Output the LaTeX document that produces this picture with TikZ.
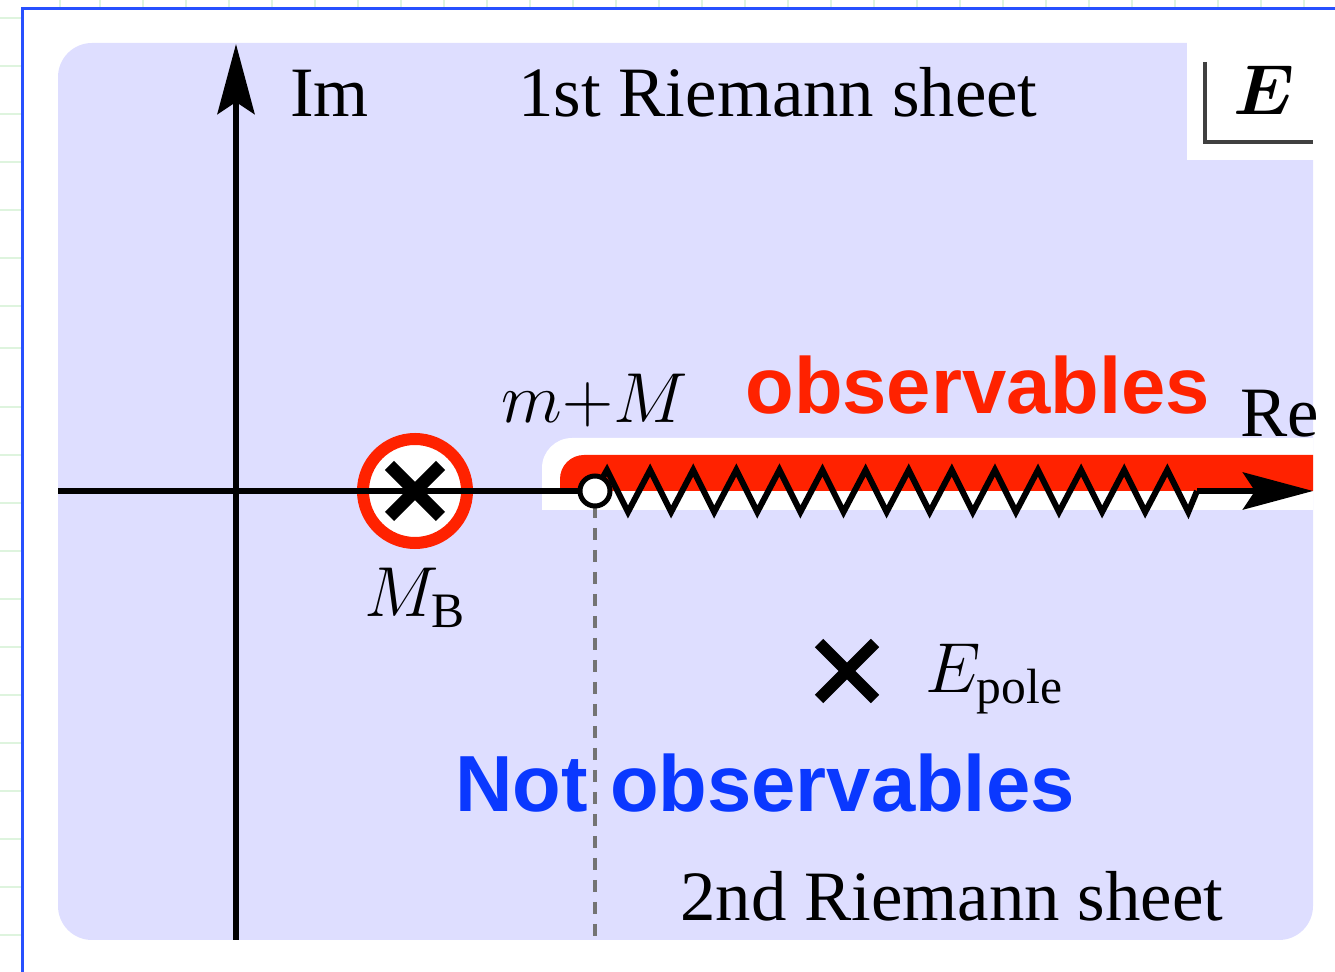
\RequirePackage{fix-cm}
\documentclass[tikz,border=0pt]{standalone}
\usepackage{amsmath}
\usepackage{fontspec}
\setmainfont{Liberation Serif}
\newfontfamily\headsans{Liberation Sans}
\usetikzlibrary{arrows.meta,positioning,shapes.misc}
\definecolor{sheetbg}{RGB}{222,222,255}
\definecolor{obsred}{RGB}{255,34,0}
\definecolor{notblue}{RGB}{10,56,255}
\definecolor{frameblue}{RGB}{40,80,255}
\definecolor{gridgreen}{RGB}{222,244,222}

\begin{document}
\begin{tikzpicture}[x=0.5pt,y=-0.5pt,
  every node/.style={inner sep=0pt, font=\fontsize{35.4}{40}\selectfont},
  bigword/.style={font=\fontsize{39.8}{44}\headsans\bfseries},
  axisline/.style={line width=3.2pt},
  axis/.style={line width=3.2pt, -{Stealth[length=35pt,width=18.5pt,inset=6pt]}},
  polemark/.style={draw, cross out, inner sep=0pt}]
  \clip (0,0) rectangle (1335,972);
  \useasboundingbox (0,0) rectangle (1335,972);

  % screen frame and faint grid outside it
  \foreach \y in {18,66,114,162,210,258,306,348,407,455,503,551,599,647,695,743,791,839,887,935}
    \draw[gridgreen, line width=1pt] (0,\y) -- (21,\y);
  \foreach \x in {60,100,143,186,229,272,315,358,401,444,487,530,573,616,659,702,745,788,831,874,917,960,1003,1046,1089,1132,1175,1218,1261,1304}
    \draw[gridgreen, line width=1pt] (\x,0) -- (\x,7);
  \draw[frameblue, line width=1.6pt] (22.5,1000) |- (1400,8.5);

  % sheets
  \fill[sheetbg, rounded corners=17pt] (58,43) rectangle (1313,940);
  \fill[white] (1187,38) rectangle (1320,160);
  \begin{scope}
    \clip (0,0) rectangle (1313,510);
    \fill[white, rounded corners=15pt] (542,438) rectangle (1400,600);
  \end{scope}
  \begin{scope}
    \clip (0,0) rectangle (1313,491);
    \fill[obsred, rounded corners=12pt] (560,455) rectangle (1400,560);
  \end{scope}

  % energy label box
  \draw[black!75, line width=2pt] (1205,62) |- (1313,142);
  \node[anchor=base] (ecorner) at (1264,115) {$\boldsymbol{E}$};

  % axes
  \coordinate (imBot) at (236,940);
  \coordinate (imTop) at (236,44);
  \coordinate (reLeft) at (58,491);
  \coordinate (zzEnd) at (1197,491);
  \coordinate (reTip) at (1313,491);
  \coordinate (cutBot) at (595,940);
  \draw[axis] (imBot) -- (imTop);

  % bound state
  \node[circle, draw=obsred, line width=6pt, fill=white, minimum size=52pt] (mb) at (415,491) {};
  \draw[axisline] (reLeft) -- (595,491);
  \node[polemark, line width=6.5pt, minimum size=19pt] (mbx) at (415,491) {};

  % branch cut
  \draw[black!55, line width=2pt, dash pattern=on 6pt off 5pt] (595,506) -- (cutBot);
  \draw[line width=3pt, line join=miter]
    (595,491) \foreach \i in {0,...,13} { -- ({607+43.1*\i},470) -- ({628+43.1*\i},512) } -- (zzEnd);
  \draw[axis] (zzEnd) -- (reTip);
  \node[circle, draw, line width=2.5pt, fill=white, minimum size=15pt] (thr) at (595,491) {};

  % resonance pole
  \node[polemark, line width=6pt, minimum size=22pt] (pole) at (847,671) {};

  % labels
  \node[anchor=base west] (imlbl) at (290,117) {Im};
  \node[anchor=base west] (sheet1) at (518,117) {1st Riemann sheet};
  \node[anchor=base] (mplusm) at (595,423) {$m{+}M$};
  \node[anchor=base west, bigword, text=obsred] (obs) at (745,414) {observables};
  \node[anchor=base west] (relbl) at (1240,437) {Re};
  \node[anchor=base] (mblbl) at (415,617) {$M_{\mathrm{B}}$};
  \node[anchor=base west] (epolelbl) at (925,693) {$E_{\mathrm{pole}}$};
  \node[anchor=base west, bigword, text=notblue] (notobs) at (455,812) {Not observables};
  \node[anchor=base west] (sheet2) at (680,921) {2nd Riemann sheet};
\end{tikzpicture}
\end{document}
